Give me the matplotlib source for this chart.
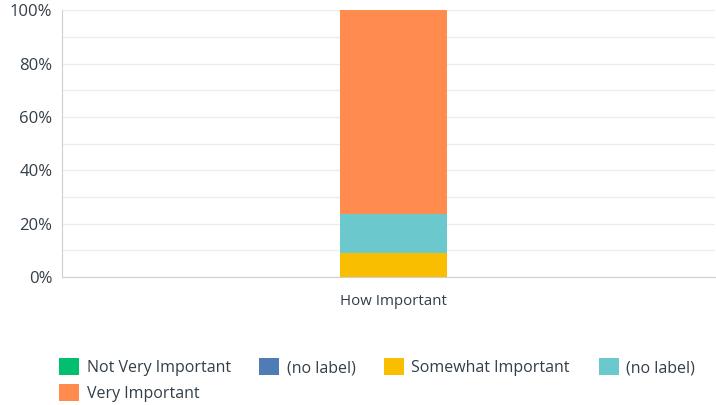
import matplotlib.pyplot as plt
from matplotlib.patches import FancyBboxPatch
from matplotlib.ticker import MultipleLocator, PercentFormatter

# question and answer shares (percent of respondents)
category = ['How Important']
series_names = ['Not Very Important', '(no label)', 'Somewhat Important', '(no label)', 'Very Important']
series_values = [0.0, 0.0, 9.1, 14.5, 76.4]
series_colors = ['#00bf6f', '#507cb6', '#f9be00', '#6bc8cd', '#ff8b4f']

text_color = '#333e48'
plt.rcParams['font.family'] = ['Open Sans', 'DejaVu Sans']

fig = plt.figure(figsize=(7.16, 4.05), dpi=100)
ax = fig.add_axes([0.0866, 0.316, 0.912, 0.659])

bottom = 0.0
handles = []
for name, val, col in zip(series_names, series_values, series_colors):
    ax.bar(0, val, bottom=bottom, width=0.164, color=col, linewidth=0, zorder=3)
    bottom += val
    handles.append(FancyBboxPatch((0, 0), 1, 1, boxstyle='round,pad=0,rounding_size=0.2',
                                  facecolor=col, edgecolor='none', label=name))

ax.set_xlim(-0.508, 0.492)
ax.set_ylim(0, 100)
ax.set_xticks([0])
ax.set_xticklabels(category, fontsize=10.8, color=text_color)
ax.yaxis.set_major_locator(MultipleLocator(20))
ax.yaxis.set_minor_locator(MultipleLocator(10))
ax.yaxis.set_major_formatter(PercentFormatter(decimals=0))
ax.tick_params(axis='y', which='both', length=0, labelsize=12, labelcolor=text_color, pad=7)
ax.tick_params(axis='x', length=0, pad=12)
ax.grid(axis='y', which='both', color='#ececec', linewidth=1, zorder=0)
for s in ['top', 'right']:
    ax.spines[s].set_visible(False)
for s in ['left', 'bottom']:
    ax.spines[s].set_color('#cfcfcf')

# legend fills column by column, so reorder to read row by row
order = [0, 4, 1, 2, 3]
fig.legend(handles=[handles[i] for i in order], labels=[series_names[i] for i in order],
           loc='upper left', bbox_to_anchor=(0.083, 0.115),
           ncol=4, frameon=False, fontsize=11.5, labelcolor=text_color,
           handlelength=1.25, handleheight=1.25, handletextpad=0.45, columnspacing=1.8,
           labelspacing=0.5, borderaxespad=0, borderpad=0)

fig.savefig('out.png', dpi=100)
